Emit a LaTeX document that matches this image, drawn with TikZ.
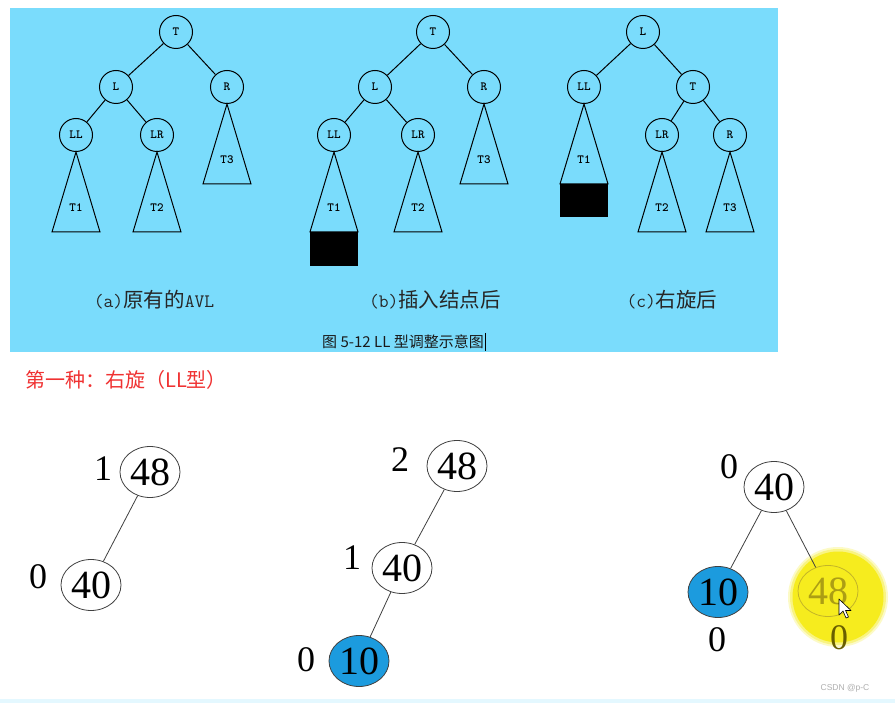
\documentclass[tikz,border=0pt]{standalone}
\usepackage{fontspec}
\setmainfont{Liberation Serif}
\newfontfamily\cjkf{Noto Sans CJK SC}
\newfontfamily\sansf{Liberation Sans}
\usetikzlibrary{shapes.geometric}
\definecolor{panel}{RGB}{122,220,252}
\definecolor{nodeblue}{RGB}{28,155,222}
\definecolor{redtxt}{RGB}{240,50,50}
\definecolor{hlyellow}{RGB}{246,236,30}
\definecolor{fadeline}{RGB}{195,180,40}
\definecolor{fadetxt}{RGB}{172,158,20}
\definecolor{fadezero}{RGB}{105,95,0}
\definecolor{wmgray}{RGB}{175,175,175}
\definecolor{strip}{RGB}{228,248,255}
\newcommand\subtri[2]{%
  \draw[edge] (#1) -- ++(-24,80) -- ++(48,0) -- cycle;
  \path (#1) ++(0,56) node[tl] {#2};}
\newcommand\captt[1]{{\ttfamily\fontsize{19}{20}\selectfont #1}}
\newcommand\capcj[1]{{\cjkf\fontsize{20.5}{22}\selectfont #1}}
\begin{document}
\begin{tikzpicture}[x=1pt,y=-1pt,
  tn/.style={circle,draw,line width=1pt,minimum size=33pt,inner sep=0pt,font=\ttfamily\bfseries\fontsize{12.5}{13}\selectfont},
  tl/.style={font=\ttfamily\bfseries\fontsize{12.5}{13}\selectfont,inner sep=0pt},
  edge/.style={line width=1pt},
  captext/.style={text=black!85,inner sep=0pt},
  bn/.style={ellipse,draw=black!75,line width=0.8pt,minimum width=60pt,minimum height=51pt,inner sep=0pt,font=\fontsize{40}{40}\selectfont},
  bf/.style={font=\fontsize{36}{36}\selectfont,inner sep=0pt},
  bedge/.style={draw=black!75,line width=0.8pt}]
\useasboundingbox (0,0) rectangle (895,703);
\fill[white] (0,0) rectangle (895,703);
\fill[panel] (10,8) rectangle (778,352);
\fill[strip] (0,699) rectangle (895,703);

% ---- tree (a)
\node[tn] (Ta) at (176,32) {T};
\node[tn] (La) at (116,87) {L};
\node[tn] (Ra) at (227,87) {R};
\node[tn] (LLa) at (76,135) {LL};
\node[tn] (LRa) at (157,135) {LR};
\draw[edge] (Ta) -- (La);
\draw[edge] (Ta) -- (Ra);
\draw[edge] (La) -- (LLa);
\draw[edge] (La) -- (LRa);
\subtri{LLa.south}{T1}
\subtri{LRa.south}{T2}
\subtri{Ra.south}{T3}

% ---- tree (b)
\node[tn] (Tb) at (433,32) {T};
\node[tn] (Lb) at (375,87) {L};
\node[tn] (Rb) at (484,87) {R};
\node[tn] (LLb) at (334,135) {LL};
\node[tn] (LRb) at (418,135) {LR};
\draw[edge] (Tb) -- (Lb);
\draw[edge] (Tb) -- (Rb);
\draw[edge] (Lb) -- (LLb);
\draw[edge] (Lb) -- (LRb);
\subtri{LLb.south}{T1}
\subtri{LRb.south}{T2}
\subtri{Rb.south}{T3}
\fill (LLb.south) ++(-24,80) rectangle ++(48,34);

% ---- tree (c)
\node[tn] (Lc) at (643,32) {L};
\node[tn] (LLc) at (584,87) {LL};
\node[tn] (Tc) at (693,87) {T};
\node[tn] (LRc) at (662,135) {LR};
\node[tn] (Rc) at (730,135) {R};
\draw[edge] (Lc) -- (LLc);
\draw[edge] (Lc) -- (Tc);
\draw[edge] (Tc) -- (LRc);
\draw[edge] (Tc) -- (Rc);
\subtri{LLc.south}{T1}
\subtri{LRc.south}{T2}
\subtri{Rc.south}{T3}
\fill (LLc.south) ++(-24,80) rectangle ++(48,33);

% ---- captions
\node[captext] (capa) at (154,300) {\captt{(a)}\capcj{原有的}\captt{AVL}};
\node[captext] (capb) at (435,300) {\captt{(b)}\capcj{插入结点后}};
\node[captext] (capc) at (672,300) {\captt{(c)}\capcj{右旋后}};
\node[font=\cjkf\fontsize{15}{16}\selectfont,text=black!90,inner sep=0pt] (fig) at (403,342) {图 5-12 LL 型调整示意图};
\draw[line width=1pt] (fig.east) ++(2,-9) -- ++(0,18);

\node[font=\cjkf\fontsize{20}{22}\selectfont,text=redtxt,anchor=west,inner sep=0pt] (title) at (25,380) {第一种：右旋（LL型）};

% ---- bottom tree 1
\node[bn] (A48) at (150,472) {48};
\node[bn] (A40) at (91,585) {40};
\draw[bedge] (A48) -- (A40);
\node[bf] at (103,469) {1};
\node[bf] at (38,577) {0};

% ---- bottom tree 2
\node[bn] (B48) at (457,466) {48};
\node[bn] (B40) at (402,568) {40};
\node[bn,fill=nodeblue] (B10) at (359,661) {10};
\draw[bedge] (B48) -- (B40);
\draw[bedge] (B40) -- (B10);
\node[bf] at (400,460) {2};
\node[bf] at (352,558) {1};
\node[bf] at (306,660) {0};

% ---- bottom tree 3
\fill[hlyellow,opacity=0.25] (838,597) circle[radius=50];
\fill[hlyellow,opacity=0.4] (838,597) circle[radius=48];
\fill[hlyellow] (838,597) circle[radius=45.5];
\node[bn] (C40) at (774,487) {40};
\node[bn,fill=nodeblue] (C10) at (718,592) {10};
\node[bn,draw=fadeline,text=fadetxt] (C48) at (828,591) {48};
\draw[bedge] (C40) -- (C10);
\draw[bedge] (C40) -- (C48);
\node[bf] at (729,467) {0};
\node[bf] at (717,640) {0};
\node[bf,text=fadezero] at (839,638) {0};

% mouse pointer
\draw[fill=white,line width=0.6pt,line join=round]
  (839,599) -- (839,615) -- (843,611) -- (846,618) -- (848.5,617) -- (845.5,610.5) -- (851,610.5) -- cycle;

\node[font=\sansf\fontsize{8.5}{9}\selectfont,text=wmgray,inner sep=0pt] (wm) at (845,688) {CSDN @p-C};
\end{tikzpicture}
\end{document}
